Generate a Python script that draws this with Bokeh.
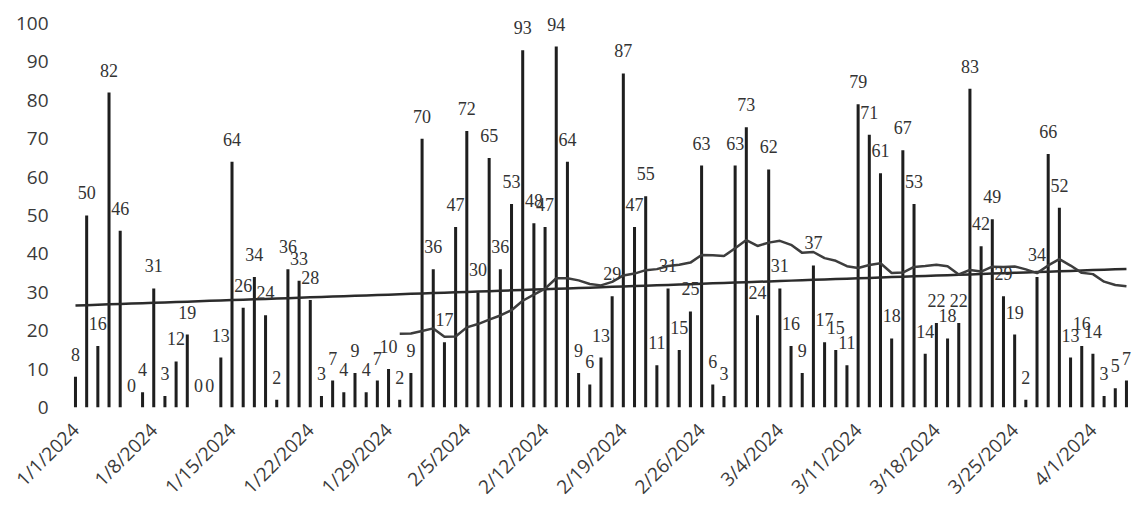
import math
import numpy as np
from bokeh.plotting import figure
from bokeh.models import ColumnDataSource, FixedTicker, Range1d, LabelSet
from bokeh.embed import file_html
from bokeh.resources import INLINE

# ---- data (daily values, 1/1/2024 .. 4/4/2024) ----
values = [8, 50, 16, 82, 46, 0, 4, 31, 3, 12,
          19, 0, 0, 13, 64, 26, 34, 24, 2, 36,
          33, 28, 3, 7, 4, 9, 4, 7, 10, 2,
          9, 70, 36, 17, 47, 72, 30, 65, 36, 53,
          93, 48, 47, 94, 64, 9, 6, 13, 29, 87,
          47, 55, 11, 31, 15, 25, 63, 6, 3, 63,
          73, 24, 62, 31, 16, 9, 37, 17, 15, 11,
          79, 71, 61, 18, 67, 53, 14, 22, 18, 22,
          83, 42, 49, 29, 19, 2, 34, 66, 52, 13,
          16, 14, 3, 5, 7]
tick_days = [0, 7, 14, 21, 28, 35, 42, 49, 56, 63, 70, 77, 84, 91]
tick_labels = ["1/1/2024", "1/8/2024", "1/15/2024", "1/22/2024", "1/29/2024",
               "2/5/2024", "2/12/2024", "2/19/2024", "2/26/2024", "3/4/2024",
               "3/11/2024", "3/18/2024", "3/25/2024", "4/1/2024"]
y_ticks = [0, 10, 20, 30, 40, 50, 60, 70, 80, 90, 100]
ma_window = 30

days = np.arange(len(values))
vals = np.array(values, dtype=float)

# moving average (30 periods) and linear trend, derived from the data
ma = np.convolve(vals, np.ones(ma_window) / ma_window, mode="valid")
ma_x = days[ma_window - 1:]
slope, intercept = np.polyfit(days, vals, 1)
trend_y = slope * days + intercept

src = ColumnDataSource(dict(x=days, top=vals, lab=[str(v) for v in values]))

p = figure(frame_width=1072, frame_height=392, output_backend="svg", toolbar_location=None,
           x_range=Range1d(-1.34, 94.54), y_range=Range1d(0, 102.08),
           min_border_left=60, min_border_right=0, min_border_top=15, min_border_bottom=110)
p.outline_line_color = None
p.background_fill_color = "white"
p.border_fill_color = "white"
p.xgrid.visible = False
p.ygrid.visible = False

p.vbar(x="x", top="top", bottom=0, width=0.27, source=src,
       fill_color="#1e1e1e", line_color=None)
p.line(days, trend_y, line_color="#2b2b2b", line_width=2.5)
p.line(ma_x, ma, line_color="#3d3d3d", line_width=2.5)

labels = LabelSet(x="x", y="top", text="lab", source=src, text_align="center",
                  text_baseline="bottom", y_offset=16, text_font="Open Sans",
                  text_font_size="18px", text_color="#333333")
p.add_layout(labels)

p.xaxis.ticker = FixedTicker(ticks=tick_days)
p.xaxis.major_label_overrides = {d: l for d, l in zip(tick_days, tick_labels)}
p.xaxis.major_label_orientation = math.pi / 4
p.yaxis.ticker = FixedTicker(ticks=y_ticks)
for ax in (p.xaxis, p.yaxis):
    ax.axis_line_color = None
    ax.major_tick_line_color = None
    ax.minor_tick_line_color = None
    ax.major_tick_out = 0
    ax.major_tick_in = 0
    ax.major_label_text_font = "Open Sans"
    ax.major_label_text_color = "#3a3a3a"
p.yaxis.major_label_text_font_size = "19px"
p.yaxis.major_label_standoff = 12
p.xaxis.major_label_text_font_size = "19px"
p.xaxis.major_label_standoff = 19

open("out.html", "w").write(file_html(p, INLINE))
